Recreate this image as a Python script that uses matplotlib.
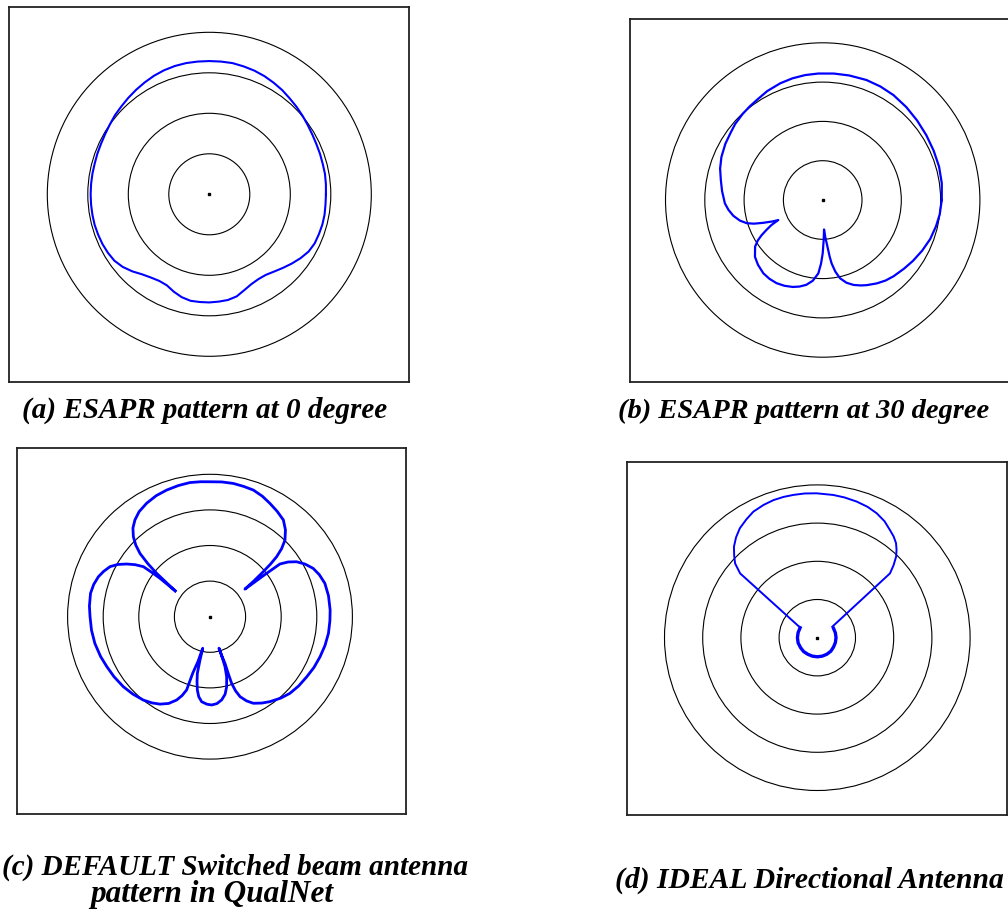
import numpy as np
import matplotlib
matplotlib.use("Agg")
import matplotlib.pyplot as plt
from matplotlib.patches import Circle

W, H = 1008, 919

# ring radii (same for every panel)
rings = [1, 2, 3, 4]

# (a) ESAPR pattern at 0 degree: angle (deg, ccw from east), radius in ring units
a_ang = [0, 5, 10, 15, 20, 25, 30, 35, 40, 45, 50, 55, 60, 65, 70, 75, 80, 85, 90,
         95, 100, 105, 110, 115, 120, 125, 130, 135, 140, 145, 150, 155, 160, 165,
         170, 175, 180, 185, 190, 195, 200, 205, 210, 215, 220, 225, 230, 235, 240,
         245, 250, 255, 260, 265, 270, 275, 280, 285, 290, 295, 300, 305, 310, 315,
         320, 325, 330, 335, 340, 345, 350, 355, 360]
a_r = [2.88, 2.89, 2.90, 2.90, 2.91, 2.92, 2.94, 2.97, 3.01, 3.05, 3.09, 3.14, 3.18,
       3.22, 3.25, 3.27, 3.29, 3.29, 3.29, 3.29, 3.29, 3.28, 3.26, 3.23, 3.19, 3.15,
       3.11, 3.07, 3.04, 3.00, 2.97, 2.95, 2.94, 2.93, 2.93, 2.93, 2.93, 2.93, 2.93,
       2.93, 2.92, 2.91, 2.89, 2.86, 2.79, 2.69, 2.58, 2.51, 2.47, 2.48, 2.56, 2.63,
       2.67, 2.67, 2.67, 2.66, 2.65, 2.61, 2.52, 2.45, 2.42, 2.43, 2.49, 2.57, 2.66,
       2.75, 2.83, 2.87, 2.88, 2.89, 2.89, 2.88, 2.88]

# (b) ESAPR pattern at 30 degree
b_ang = [0, 8, 16, 24, 32, 40, 48, 56, 63, 70, 78, 85, 92, 98, 104, 110, 117, 123,
         128, 133, 139, 144, 150, 157, 163, 169, 175, 182, 186, 190, 194, 197, 199,
         201, 203, 204.3, 206, 208, 210, 212, 214.6, 220, 225, 231, 236, 241, 246,
         251, 255, 259, 263, 266.6, 268.5, 270, 271.5, 272.6, 274, 275.3, 277, 278,
         280, 282.5, 286, 290, 294, 297.4, 303, 308, 313, 320, 326, 333, 340, 347,
         353, 360]
b_r = [3.03, 3.06, 3.08, 3.09, 3.11, 3.14, 3.18, 3.22, 3.24, 3.25, 3.24, 3.23, 3.22,
       3.21, 3.19, 3.16, 3.11, 3.05, 3.02, 2.99, 2.95, 2.90, 2.86, 2.80, 2.73, 2.64,
       2.57, 2.49, 2.41, 2.31, 2.17, 2.02, 1.85, 1.62, 1.40, 1.24, 1.45, 1.62, 1.80,
       1.95, 2.09, 2.25, 2.33, 2.40, 2.42, 2.42, 2.39, 2.34, 2.28, 2.20, 2.07, 1.87,
       1.62, 1.36, 1.00, 0.75, 0.95, 1.11, 1.45, 1.63, 1.85, 2.04, 2.19, 2.30, 2.38,
       2.44, 2.53, 2.60, 2.65, 2.71, 2.77, 2.84, 2.91, 2.96, 3.00, 3.03]

# (c) DEFAULT switched beam pattern, traced in path order:
# top lobe, right lobe, bottom lobe, left lobe
c_ang = [143.4, 142, 140.9, 139.5, 137.9, 136, 133.8, 131, 127.8, 124, 119.2, 114,
         108.9, 103.5, 98.5, 94, 90, 85, 80.1, 75.5, 71.1, 66.5, 62.1, 57.5, 52.8,
         49, 45.6, 43.5, 42, 41, 40.2, 39.2, 38.3,
         37.8, 37.5, 37, 35, 32.4, 29, 25.1, 21, 16.2, 10, 3.2, -2, -8, -14, -20,
         -26, -31.8, -38, -43.8, -49, -54.8, -59, -63.4, -66.5, -69.4, -71, -72,
         -72.2, -72.2, -73.2, -74.1,
         -73.3, -73.3, -74.5, -76.6, -79, -82, -85.5, -88.9, -92, -95.6, -98, -99.8,
         -101.3, -102.6, -103, -103,
         -105, -107, -107.7, -109.5, -111.8, -115.5, -119.8, -124, -128.7, -135,
         -141.1, -148, -154.2, -160, -166.9, -173.5, -180, -185, -191.1, -195.5,
         -199.7, -203, -206.6, -209.5, -212.3, -214.8, -216.9, -217.3, -217.5,
         -216.6]
c_r = [1.22, 1.55, 1.93, 2.30, 2.65, 2.90, 3.11, 3.30, 3.44, 3.56, 3.65, 3.72, 3.76,
       3.79, 3.81, 3.80, 3.79, 3.80, 3.80, 3.78, 3.76, 3.69, 3.60, 3.51, 3.41, 3.23,
       3.01, 2.77, 2.52, 2.25, 1.96, 1.60, 1.25,
       1.60, 1.95, 2.46, 2.68, 2.88, 3.05, 3.20, 3.29, 3.36, 3.38, 3.38, 3.37, 3.36,
       3.33, 3.29, 3.25, 3.20, 3.16, 3.11, 3.03, 2.92, 2.83, 2.72, 2.58, 2.40, 2.20,
       1.97, 1.68, 1.38, 1.15, 0.92,
       1.20, 1.47, 1.75, 2.02, 2.22, 2.36, 2.45, 2.48, 2.46, 2.40, 2.27, 2.09, 1.86,
       1.63, 1.25, 0.91,
       1.30, 1.66, 2.16, 2.35, 2.52, 2.70, 2.83, 2.92, 3.00, 3.07, 3.13, 3.18, 3.22,
       3.27, 3.32, 3.35, 3.37, 3.40, 3.42, 3.39, 3.33, 3.25, 3.14, 2.98, 2.77, 2.56,
       2.34, 2.05, 1.77, 1.22]

# (d) IDEAL directional antenna: main lobe with straight sides ...
d_ang = [36.3, 41.5, 43.5, 45.8, 48, 50.2, 53, 56, 60, 64.5, 69, 73.9, 79, 83.6,
         90.3, 95, 99.5, 103.5, 107.7, 112, 116.9, 121, 125.3, 129, 132.5, 135.5,
         137.9, 140.2, 149.5]
d_r = [0.49, 2.54, 2.75, 2.96, 3.10, 3.22, 3.32, 3.40, 3.52, 3.61, 3.67, 3.71, 3.74,
       3.76, 3.78, 3.79, 3.79, 3.79, 3.78, 3.75, 3.70, 3.61, 3.51, 3.38, 3.23, 3.05,
       2.90, 2.63, 0.52]
# ... and the small back lobe around the centre
d_back_ang = [150, 165, 180, 195, 210, 225, 240, 255, 270, 285, 300, 315, 330, 345,
              360, 375, 390]
d_back_r = [0.52, 0.52, 0.52, 0.52, 0.51, 0.51, 0.50, 0.50, 0.50, 0.50, 0.50, 0.50,
            0.49, 0.49, 0.49, 0.49, 0.49]

captions = ["(a) ESAPR pattern at 0 degree", "(b) ESAPR pattern at 30 degree",
            "(c) DEFAULT Switched beam antenna", "pattern in QualNet",
            "(d) IDEAL Directional Antenna"]


def polar_xy(ang, r):
    t = np.radians(ang)
    return np.array(r) * np.cos(t), np.array(r) * np.sin(t)


def panel(x0, y0, x1, y1, cx, cy, u):
    # axes placed by its pixel box, limits chosen so one ring step = u pixels
    ax = fig.add_axes([x0 / W, 1 - y1 / H, (x1 - x0) / W, (y1 - y0) / H])
    ax.set_xlim((x0 - cx) / u, (x1 - cx) / u)
    ax.set_ylim((cy - y1) / u, (cy - y0) / u)
    ax.set_xticks([])
    ax.set_yticks([])
    for s in ax.spines.values():
        s.set_linewidth(1.3)
        s.set_color("#222222")
    for rr in rings:
        ax.add_patch(Circle((0, 0), rr, fill=False, ec="black", lw=0.8))
    ax.plot([0], [0], "s", color="black", ms=1.5)
    return ax


fig = plt.figure(figsize=(W / 100, H / 100), dpi=100)
blue = "#0000ff"

ax = panel(9, 7, 409, 382, 209.3, 194.3, 40.5)
ax.plot(*polar_xy(a_ang, a_r), color=blue, lw=1.5)

ax = panel(630, 19, 1016, 382, 822.7, 200.0, 39.3)
ax.plot(*polar_xy(b_ang, b_r), color=blue, lw=1.6)

ax = panel(16.7, 447.7, 405.7, 814, 210.0, 616.7, 35.6)
ax.plot(*polar_xy(c_ang, c_r), color=blue, lw=2.0)

ax = panel(626.7, 462.3, 1006.7, 815, 817.3, 637.7, 38.2)
ax.plot(*polar_xy(d_ang, d_r), color=blue, lw=1.4)
ax.plot(*polar_xy(d_back_ang, d_back_r), color=blue, lw=2.4)

font = dict(family="Liberation Serif", weight="bold", style="italic")
fig.text(205 / W, 1 - 418 / H, captions[0], ha="center", va="baseline", size=21, **font)
fig.text(618 / W, 1 - 418 / H, captions[1], ha="left", va="baseline", size=20.5, **font)
fig.text(468 / W, 1 - 875 / H, captions[2], ha="right", va="baseline", size=21, **font)
fig.text(212 / W, 1 - 902 / H, captions[3], ha="center", va="baseline", size=22.5, **font)
fig.text(1004 / W, 1 - 888 / H, captions[4], ha="right", va="baseline", size=21.3, **font)

fig.savefig("out.png", dpi=100)
